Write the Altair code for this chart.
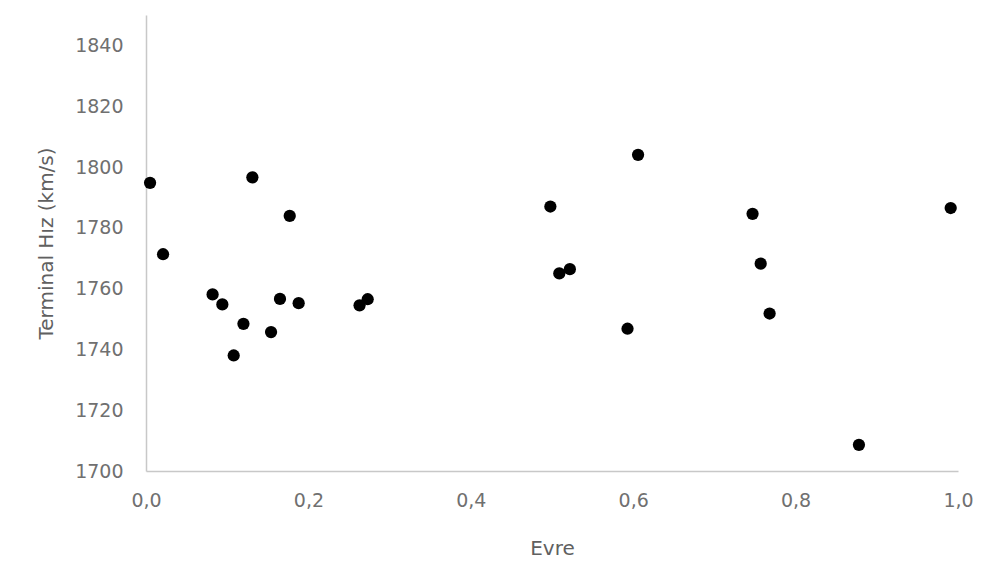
import altair as alt
import pandas as pd

evre = [0.005, 0.021, 0.082, 0.094, 0.108, 0.120, 0.131, 0.154, 0.165, 0.177, 0.188,
        0.263, 0.273, 0.498, 0.509, 0.522, 0.593, 0.606, 0.747, 0.757, 0.768, 0.878, 0.991]
hiz = [1794.8, 1771.3, 1758.1, 1754.8, 1738.0, 1748.4, 1796.6, 1745.7, 1756.6, 1783.9, 1755.2,
       1754.5, 1756.5, 1787.0, 1765.0, 1766.4, 1746.8, 1804.0, 1784.6, 1768.2, 1751.8, 1708.6, 1786.5]

y_ticks = [1700, 1720, 1740, 1760, 1780, 1800, 1820, 1840]
x_ticks = [0.0, 0.2, 0.4, 0.6, 0.8, 1.0]

df = pd.DataFrame({"Evre": evre, "Hiz": hiz})

FONT = "DejaVu Sans"

chart = alt.Chart(df).mark_circle(size=150, color="black", opacity=1).encode(
    x=alt.X("Evre:Q",
            scale=alt.Scale(domain=[0, 1], nice=False, zero=False),
            axis=alt.Axis(title="Evre", values=x_ticks,
                          labelExpr="replace(format(datum.value, '.1f'), '.', ',')",
                          labelFlush=False, labelOverlap=False,
                          ticks=False, grid=False, domainColor="#c8c8c8", domainWidth=1.5,
                          labelPadding=20, titlePadding=28, labelFontSize=19, titleFontSize=20,
                          labelColor="#707070", titleColor="#606060",
                          labelFont=FONT, titleFont=FONT,
                          titleFontWeight="normal")),
    y=alt.Y("Hiz:Q",
            scale=alt.Scale(domain=[1700, 1850], nice=False, zero=False),
            axis=alt.Axis(title="Terminal Hız (km/s)", values=y_ticks, format="d",
                          labelOverlap=False,
                          ticks=False, grid=False, domainColor="#c8c8c8", domainWidth=1.5,
                          labelPadding=23, titlePadding=18, labelFontSize=19, titleFontSize=20,
                          labelColor="#707070", titleColor="#606060",
                          labelFont=FONT, titleFont=FONT,
                          titleFontWeight="normal")),
).properties(
    width=812, height=456,
    autosize=alt.AutoSizeParams(type="none"),
    padding={"left": 138, "top": 7, "right": 16, "bottom": 90},
    background="white",
).configure_view(stroke=None)

chart.save("out.html", embed_options={"renderer": "svg", "actions": False})
